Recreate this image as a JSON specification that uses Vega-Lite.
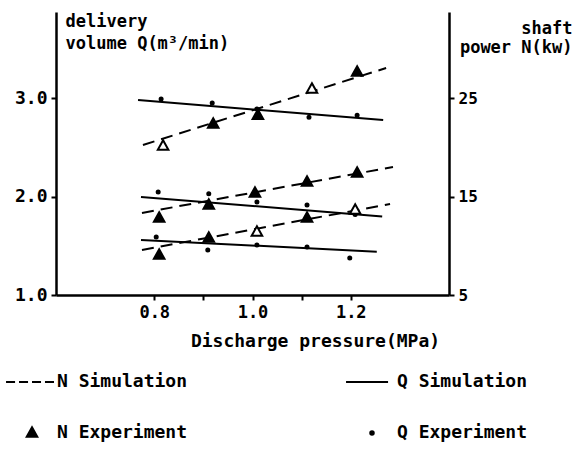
{
  "$schema": "https://vega.github.io/schema/vega-lite/v6.json",
  "width": 393,
  "height": 283,
  "autosize": {"type": "none"},
  "padding": {"left": 56, "top": 12, "right": 133, "bottom": 156},
  "background": "white",
  "config": {
    "view": {"stroke": null},
    "font": "DejaVu Sans Mono",
    "axis": {
      "grid": false,
      "domainColor": "black",
      "domainWidth": 2.5,
      "tickColor": "black",
      "tickWidth": 2,
      "tickSize": 5,
      "labelColor": "black",
      "labelFont": "DejaVu Sans Mono",
      "labelFontWeight": "bold",
      "titleFont": "DejaVu Sans Mono",
      "titleFontWeight": "bold",
      "titleColor": "black"
    }
  },
  "datasets": {
    "qsim": [
      {"p": 0.767, "q": 2.985, "curve": "top"},
      {"p": 1.266, "q": 2.78, "curve": "top"},
      {"p": 0.773, "q": 1.997, "curve": "mid"},
      {"p": 1.264, "q": 1.8, "curve": "mid"},
      {"p": 0.773, "q": 1.56, "curve": "low"},
      {"p": 1.253, "q": 1.44, "curve": "low"}
    ],
    "nsim": [
      {"p": 0.777, "n": 20.27, "curve": "top"},
      {"p": 1.272, "n": 28.1, "curve": "top"},
      {"p": 0.775, "n": 13.35, "curve": "mid"},
      {"p": 1.286, "n": 18.03, "curve": "mid"},
      {"p": 0.775, "n": 9.58, "curve": "low"},
      {"p": 1.28, "n": 14.26, "curve": "low"}
    ],
    "qexp": [
      {"p": 0.814, "q": 2.995, "series": "Q Experiment", "marker": "filled"},
      {"p": 0.918, "q": 2.954, "series": "Q Experiment", "marker": "filled"},
      {"p": 1.009, "q": 2.893, "series": "Q Experiment", "marker": "filled"},
      {"p": 1.115, "q": 2.81, "series": "Q Experiment", "marker": "filled"},
      {"p": 1.213, "q": 2.83, "series": "Q Experiment", "marker": "filled"},
      {"p": 0.808, "q": 2.048, "series": "Q Experiment", "marker": "filled"},
      {"p": 0.911, "q": 2.03, "series": "Q Experiment", "marker": "filled"},
      {"p": 1.009, "q": 1.947, "series": "Q Experiment", "marker": "filled"},
      {"p": 1.111, "q": 1.916, "series": "Q Experiment", "marker": "filled"},
      {"p": 1.209, "q": 1.82, "series": "Q Experiment", "marker": "filled"},
      {"p": 0.804, "q": 1.59, "series": "Q Experiment", "marker": "filled"},
      {"p": 0.909, "q": 1.458, "series": "Q Experiment", "marker": "filled"},
      {"p": 1.009, "q": 1.509, "series": "Q Experiment", "marker": "filled"},
      {"p": 1.111, "q": 1.489, "series": "Q Experiment", "marker": "filled"},
      {"p": 1.198, "q": 1.377, "series": "Q Experiment", "marker": "filled"}
    ],
    "nexp": [
      {"p": 0.818, "n": 20.17, "series": "N Experiment", "marker": "open"},
      {"p": 0.92, "n": 22.4, "series": "N Experiment", "marker": "filled"},
      {"p": 1.011, "n": 23.3, "series": "N Experiment", "marker": "filled"},
      {"p": 1.121, "n": 25.97, "series": "N Experiment", "marker": "open"},
      {"p": 1.213, "n": 27.7, "series": "N Experiment", "marker": "filled"},
      {"p": 0.81, "n": 12.84, "series": "N Experiment", "marker": "filled"},
      {"p": 0.911, "n": 14.16, "series": "N Experiment", "marker": "filled"},
      {"p": 1.005, "n": 15.38, "series": "N Experiment", "marker": "filled"},
      {"p": 1.111, "n": 16.5, "series": "N Experiment", "marker": "filled"},
      {"p": 1.213, "n": 17.42, "series": "N Experiment", "marker": "filled"},
      {"p": 0.81, "n": 9.07, "series": "N Experiment", "marker": "filled"},
      {"p": 0.911, "n": 10.8, "series": "N Experiment", "marker": "filled"},
      {"p": 1.009, "n": 11.41, "series": "N Experiment", "marker": "open"},
      {"p": 1.111, "n": 12.84, "series": "N Experiment", "marker": "filled"},
      {"p": 1.209, "n": 13.65, "series": "N Experiment", "marker": "open"}
    ]
  },
  "encoding": {
    "x": {
      "field": "p",
      "type": "quantitative",
      "scale": {"domain": [0.6, 1.4], "nice": false, "zero": false},
      "axis": {
        "values": [0.8, 0.9, 1.0, 1.1, 1.2],
        "labelExpr": "abs((datum.value * 10) % 2 - 1) < 0.5 ? '' : format(datum.value, '.1f')",
        "labelFontSize": 17,
        "labelPadding": 4,
        "title": "Discharge pressure(MPa)",
        "titleFontSize": 18,
        "titleX": 259,
        "titleY": 46,
        "titleAlign": "center",
        "titleBaseline": "middle"
      }
    }
  },
  "layer": [
    {
      "encoding": {
        "y": {
          "field": "q",
          "type": "quantitative",
          "scale": {"domain": [1, 3.88], "nice": false, "zero": false},
          "axis": {
            "orient": "left",
            "values": [1, 2, 3],
            "format": ".1f",
            "labelFontSize": 18,
            "labelPadding": 4,
            "title": ["delivery", "volume Q(m³/min)"],
            "titleFontSize": 17,
            "titleLineHeight": 22,
            "titleAngle": 0,
            "titleAlign": "left",
            "titleBaseline": "top",
            "titleX": 9,
            "titleY": 1
          }
        }
      },
      "layer": [
        {
          "data": {"name": "qsim"},
          "mark": {"type": "line", "color": "black", "strokeWidth": 2},
          "encoding": {"detail": {"field": "curve"}}
        },
        {
          "data": {"name": "qexp"},
          "mark": {"type": "point", "color": "black", "size": 1936, "strokeWidth": 1.5, "opacity": 1},
          "encoding": {
            "shape": {"field": "series", "type": "nominal"},
            "fill": {"field": "marker", "type": "nominal"}
          }
        }
      ]
    },
    {
      "encoding": {
        "y": {
          "field": "n",
          "type": "quantitative",
          "scale": {"domain": [5, 33.8], "nice": false, "zero": false},
          "axis": {
            "orient": "right",
            "values": [5, 15, 25],
            "labelFontSize": 16,
            "labelPadding": 4,
            "title": ["shaft", "power N(kw)"],
            "titleFontSize": 17,
            "titleLineHeight": 19,
            "titleAngle": 0,
            "titleAlign": "right",
            "titleBaseline": "top",
            "titleX": 123,
            "titleY": 8
          }
        }
      },
      "layer": [
        {
          "data": {"name": "nsim"},
          "mark": {"type": "line", "color": "black", "strokeWidth": 2, "strokeDash": [12, 7]},
          "encoding": {"detail": {"field": "curve"}}
        },
        {
          "data": {"name": "nexp"},
          "mark": {"type": "point", "color": "black", "size": 1936, "strokeWidth": 2, "opacity": 1},
          "encoding": {
            "shape": {
              "field": "series",
              "type": "nominal",
              "scale": {
                "domain": ["N Simulation", "N Experiment", "Q Simulation", "Q Experiment"],
                "range": [
                  "M-1.18,0H-0.77M-0.59,0H-0.18M0,0H0.41M0.59,0H1",
                  "M0,-0.26L0.24,0.17L-0.24,0.17Z",
                  "M-1.18,0H0.73",
                  "M-0.08,0A0.08,0.08,0,1,0,0.08,0A0.08,0.08,0,1,0,-0.08,0Z"
                ]
              },
              "legend": {
                "orient": "none",
                "legendX": -47,
                "legendY": 347,
                "columns": 2,
                "columnPadding": 144,
                "rowPadding": 19,
                "title": null,
                "padding": 0,
                "symbolSize": 1936,
                "symbolStrokeWidth": 2,
                "symbolStrokeColor": "black",
                "symbolFillColor": "white",
                "labelFontSize": 18,
                "labelFont": "DejaVu Sans Mono",
                "labelFontWeight": "bold",
                "labelColor": "black",
                "labelOffset": 2,
                "labelExpr": "replace(datum.label, ' ', '  ')"
              }
            },
            "fill": {
              "field": "marker",
              "type": "nominal",
              "scale": {"domain": ["filled", "open"], "range": ["black", "white"]},
              "legend": null
            }
          }
        }
      ]
    }
  ],
  "resolve": {"scale": {"y": "independent"}}
}
